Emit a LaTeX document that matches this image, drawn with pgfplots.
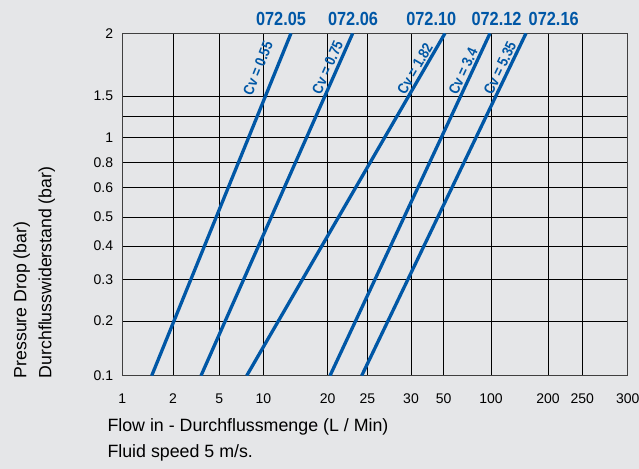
\documentclass[border=0pt]{standalone}
\usepackage{fontspec}
\setmainfont{Liberation Sans}
\newfontfamily\cond{Liberation Sans}[FakeStretch=0.86]
\usepackage{pgfplots}
\pgfplotsset{compat=1.18}
\definecolor{bg}{RGB}{229,230,232}
\definecolor{cvblue}{RGB}{0,87,166}

\begin{document}
\begin{tikzpicture}
\fill[bg] (0,0) rectangle (639bp,469bp);
\path[use as bounding box] (0,0) rectangle (639bp,469bp);
\begin{axis}[
  at={(122.3bp,93.3bp)}, anchor=south west,
  scale only axis, width=505.4bp, height=342.4bp,
  xmin=0, xmax=505.4, ymin=0, ymax=342.4,
  % the chart's own scales are not uniform: ticks sit where the grid is drawn
  xtick={0,50.7,97,141,205.4,245,288.7,321.4,368.7,425.7,460,505.4},
  xticklabels={1,2,5,10,20,25,30,50,100,200,250,300},
  ytick={0,54.7,96,129.7,158.7,188,213,238.4,259,279.7,342.4},
  yticklabels={0.1,0.2,0.3,0.4,0.5,0.6,0.8,1,,1.5,2},
  grid=major,
  major grid style={black, line width=0.8bp},
  major tick length=0pt,
  axis line style={black!75, line width=1.2bp},
  tick label style={font=\fontsize{14bp}{16bp}\selectfont},
  xticklabel style={anchor=north, inner sep=0pt, yshift=-18bp},
  yticklabel style={anchor=east, inner sep=0pt, xshift=-9bp},
  axis background/.style={fill=bg},
  clip mode=individual,
  flow/.style={cvblue, line width=3.3bp, mark=none},
]
% Cv = 0.55
\addplot[flow] coordinates {(29.4,0) (168.7,342.4)};
% Cv = 0.75
\addplot[flow] coordinates {(78.7,0) (230.4,342.4)};
% Cv = 1.82
\addplot[flow] coordinates {(124.4,0) (322.7,342.4)};
% Cv = 3.4
\addplot[flow] coordinates {(207.7,0) (367.7,342.4)};
% Cv = 5.35
\addplot[flow] coordinates {(239.4,0) (403.7,342.4)};

\tikzset{cv/.style={text=cvblue, inner sep=0pt, font=\cond\bfseries\fontsize{15bp}{17bp}\selectfont},
         model/.style={text=cvblue, anchor=base, inner sep=0pt, font=\cond\bfseries\fontsize{19bp}{22bp}\selectfont}}
\node[cv, rotate=67.9] at (axis cs:135.7,307.7) {Cv = 0.55};
\node[cv, rotate=66.1] at (axis cs:205.2,308.2) {Cv = 0.75};
\node[cv, rotate=59.9] at (axis cs:292.7,306.7) {Cv = 1.82};
\node[cv, rotate=65.0] at (axis cs:340.7,304.2) {Cv = 3.4};
\node[cv, rotate=64.4] at (axis cs:377.7,307.7) {Cv = 5.35};

\node[model] at (axis cs:158.7,349.7) {072.05};
\node[model] at (axis cs:230.7,349.7) {072.06};
\node[model] at (axis cs:309.0,349.7) {072.10};
\node[model] at (axis cs:374.2,349.7) {072.12};
\node[model] at (axis cs:431.4,349.7) {072.16};
\end{axis}

\node[anchor=base west, inner sep=0pt, font=\fontsize{17.8bp}{20bp}\selectfont]
  at (107.3bp,37.3bp) {Flow in - Durchflussmenge (L / Min)};
\node[anchor=base west, inner sep=0pt, font=\fontsize{17.8bp}{20bp}\selectfont]
  at (107.3bp,11.3bp) {Fluid speed 5 m/s.};
\node[rotate=90, anchor=north west, align=left, inner sep=0pt, font=\fontsize{17.7bp}{25bp}\selectfont]
  at (13.3bp,90.7bp) {Pressure Drop (bar)\\Durchflusswiderstand (bar)};
\end{tikzpicture}
\end{document}
